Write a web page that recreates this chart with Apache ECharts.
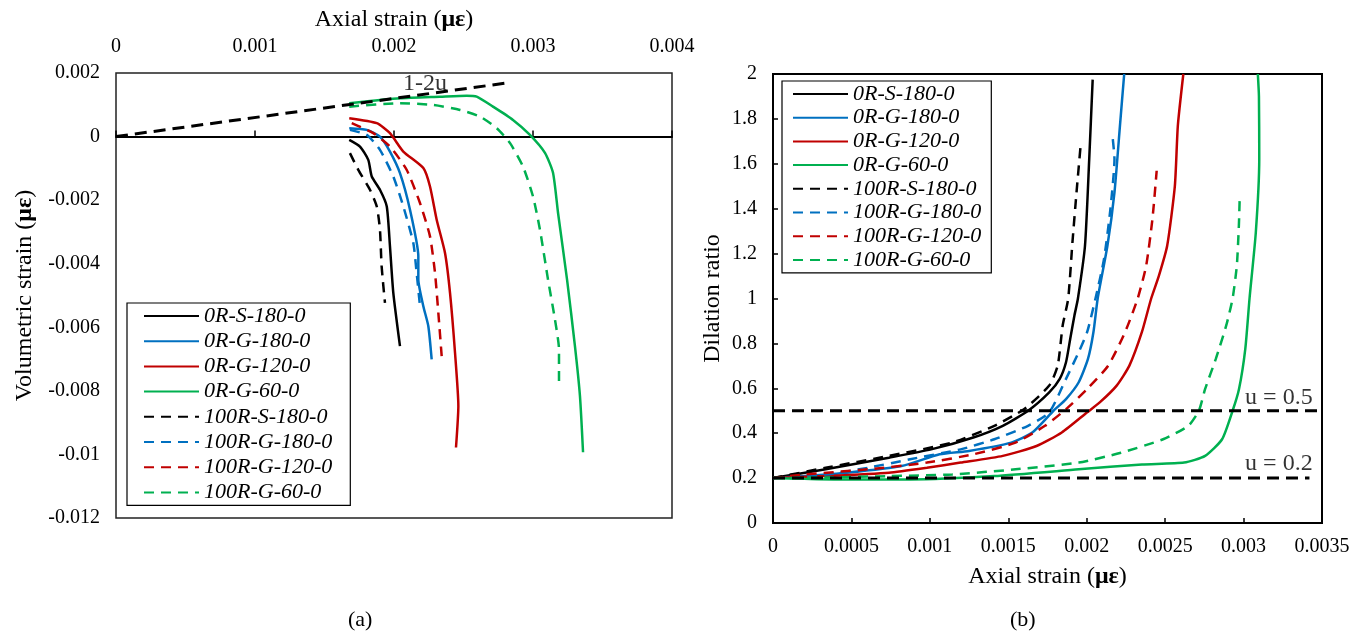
<!DOCTYPE html>
<html>
<head>
<meta charset="utf-8">
<script src="https://cdn.jsdelivr.net/npm/echarts@6/dist/echarts.min.js"></script>
<style>
  html, body { margin: 0; padding: 0; background: #fff; }
  #chart { width: 1362px; height: 635px; }
</style>
</head>
<body>
<div id="chart"></div>
<script>
// Specimen names (solid = 0R, dashed = 100R)
const specimenNames = ['0R-S-180-0', '0R-G-180-0', '0R-G-120-0', '0R-G-60-0',
  '100R-S-180-0', '100R-G-180-0', '100R-G-120-0', '100R-G-60-0'];
const specimenColors = ['#000000', '#0070C0', '#C00000', '#00B050',
  '#000000', '#0070C0', '#C00000', '#00B050'];
const specimenDashed = [false, false, false, false, true, true, true, true];

// Tick labels
const axialTicksA = ['0', '0.001', '0.002', '0.003', '0.004'];
const volTicksA = ['-0.012', '-0.01', '-0.008', '-0.006', '-0.004', '-0.002', '0', '0.002'];
const axialTicksB = ['0', '0.0005', '0.001', '0.0015', '0.002', '0.0025', '0.003', '0.0035'];
const ratioTicksB = ['0', '0.2', '0.4', '0.6', '0.8', '1', '1.2', '1.4', '1.6', '1.8', '2'];

// (a) volumetric strain vs axial strain
const volS180_0R = [[0.001678,-0.000104],[0.001755,-0.000314],[0.001815,-0.000732],[0.001840,-0.001256],[0.001899,-0.001674],[0.001948,-0.002198],[0.001971,-0.003454],[0.001995,-0.004917],[0.002043,-0.006593]];
const volG180_0R = [[0.001678,0.000264],[0.001804,0.000210],[0.001899,0.0],[0.001971,-0.000471],[0.002043,-0.001149],[0.002115,-0.002301],[0.002175,-0.003768],[0.002175,-0.004499],[0.002211,-0.005338],[0.002247,-0.005966],[0.002271,-0.007011]];
const volG120_0R = [[0.001678,0.000578],[0.001876,0.000421],[0.001971,0.000107],[0.002067,-0.000471],[0.002211,-0.000992],[0.002259,-0.001570],[0.002307,-0.002615],[0.002367,-0.003661],[0.002403,-0.004917],[0.002439,-0.006801],[0.002463,-0.008477],[0.002446,-0.009783]];
const volG60_0R = [[0.001678,0.001049],[0.002043,0.001206],[0.002331,0.001256],[0.002523,0.001287],[0.002595,0.001256],[0.002712,0.000942],[0.002856,0.000524],[0.002978,0.000053],[0.003086,-0.000512],[0.003144,-0.001140],[0.003180,-0.002396],[0.003245,-0.004500],[0.003302,-0.006603],[0.003338,-0.008173],[0.003360,-0.009931]];
const volS180_100R = [[0.001683,-0.000521],[0.001743,-0.001045],[0.001827,-0.001674],[0.001876,-0.002198],[0.001899,-0.002929],[0.001911,-0.004082],[0.001935,-0.005231]];
const volG180_100R = [[0.001683,0.000210],[0.001804,0.000053],[0.001899,-0.000418],[0.001995,-0.001256],[0.002067,-0.002198],[0.002139,-0.003347],[0.002163,-0.004289],[0.002187,-0.005338]];
const volG120_100R = [[0.001696,0.000421],[0.001851,0.000107],[0.001971,-0.000314],[0.002091,-0.001045],[0.002187,-0.002091],[0.002259,-0.003140],[0.002295,-0.004289],[0.002319,-0.005545],[0.002343,-0.006907]];
const volG60_100R = [[0.001678,0.000942],[0.002043,0.001049],[0.002281,0.000995],[0.002475,0.000838],[0.002619,0.000628],[0.002739,0.000264],[0.002835,-0.000207],[0.002928,-0.000942],[0.003000,-0.001884],[0.003050,-0.002929],[0.003108,-0.004499],[0.003158,-0.005755],[0.003187,-0.006697],[0.003187,-0.007692]];
// 1-2u reference line (slope 0.6 through the origin)
const refLine12u = [[0, 0], [0.00282, 0.001692]];

// (b) dilation ratio vs axial strain
const drS180_0R = [[0,0.2],[0.000336,0.239],[0.000739,0.291],[0.001008,0.328],[0.001277,0.381],[0.001465,0.433],[0.001626,0.5],[0.001761,0.582],[0.001828,0.642],[0.001868,0.716],[0.001895,0.821],[0.001922,0.925],[0.001944,1.0],[0.001989,1.235],[0.002016,1.621],[0.002038,1.975]];
const drG180_0R = [[0,0.2],[0.0002,0.209],[0.00047,0.224],[0.00082,0.254],[0.001062,0.306],[0.00125,0.321],[0.001519,0.358],[0.001653,0.403],[0.001788,0.5],[0.001868,0.552],[0.001949,0.627],[0.002008,0.731],[0.002043,0.851],[0.00207,1.0],[0.002132,1.235],[0.002177,1.473],[0.002212,1.77],[0.002239,2.0]];
const drG120_0R = [[0,0.2],[0.000336,0.209],[0.000739,0.224],[0.000981,0.246],[0.001196,0.269],[0.001465,0.299],[0.00168,0.343],[0.001841,0.403],[0.002003,0.493],[0.002083,0.537],[0.002191,0.612],[0.002272,0.701],[0.002352,0.851],[0.002411,1.0],[0.00246,1.101],[0.002513,1.235],[0.002562,1.502],[0.002581,1.77],[0.002616,2.0]];
const drG60_0R = [[0,0.2],[0.0002,0.197],[0.00047,0.194],[0.000874,0.194],[0.001411,0.209],[0.001949,0.239],[0.002352,0.261],[0.002621,0.269],[0.002755,0.299],[0.002863,0.373],[0.00293,0.5],[0.002971,0.597],[0.003011,0.776],[0.003038,1.0],[0.003078,1.294],[0.0031,1.621],[0.003098,1.9],[0.003091,2.0]];
const drS180_100R = [[0,0.2],[0.000336,0.246],[0.000739,0.299],[0.001142,0.358],[0.001411,0.433],[0.0016,0.507],[0.001761,0.612],[0.001815,0.701],[0.001847,0.881],[0.001882,1.0],[0.001909,1.25],[0.001935,1.473],[0.001962,1.688]];
const drG180_100R = [[0,0.2],[0.000336,0.216],[0.000605,0.246],[0.000874,0.284],[0.001196,0.328],[0.001411,0.373],[0.001626,0.433],[0.001761,0.493],[0.001868,0.642],[0.001949,0.761],[0.002003,0.851],[0.002056,1.0],[0.00211,1.175],[0.002151,1.398],[0.002177,1.621],[0.002164,1.725]];
const drG120_100R = [[0,0.2],[0.0002,0.216],[0.000605,0.239],[0.000981,0.269],[0.001277,0.306],[0.001546,0.358],[0.001734,0.433],[0.001868,0.507],[0.002003,0.597],[0.002137,0.701],[0.002245,0.851],[0.002325,1.0],[0.002379,1.146],[0.002419,1.354],[0.002446,1.569]];
const drG60_100R = [[0,0.2],[0.000336,0.203],[0.000739,0.209],[0.001142,0.216],[0.001546,0.239],[0.001949,0.269],[0.002218,0.313],[0.002487,0.373],[0.002648,0.433],[0.002715,0.5],[0.002755,0.597],[0.002823,0.731],[0.00289,0.881],[0.00293,1.0],[0.002957,1.146],[0.00297,1.324],[0.002976,1.465]];
// Poisson's ratio reference levels
const refU05 = [[0, 0.5], [0.0035, 0.5]];
const refU02 = [[0, 0.2], [0.00342, 0.2]];

const volData = [volS180_0R, volG180_0R, volG120_0R, volG60_0R, volS180_100R, volG180_100R, volG120_100R, volG60_100R];
const drData = [drS180_0R, drG180_0R, drG120_0R, drG60_0R, drS180_100R, drG180_100R, drG120_100R, drG60_100R];

const FONT = "'Liberation Serif', 'Times New Roman', serif";
const chart = echarts.init(document.getElementById('chart'));

function curve(name, i, data, xi, yi) {
  return {
    type: 'line', name: name, data: data, xAxisIndex: xi, yAxisIndex: yi,
    showSymbol: false, symbol: 'none', smooth: 0.2, silent: true,
    color: specimenColors[i],
    lineStyle: { color: specimenColors[i], width: 2.5, type: specimenDashed[i] ? [10, 7] : 'solid' },
    z: 3
  };
}
function refLine(data, xi, yi) {
  return {
    type: 'line', data: data, xAxisIndex: xi, yAxisIndex: yi, showSymbol: false, symbol: 'none',
    silent: true, color: '#000', lineStyle: { color: '#000', width: 3, type: [12, 7] }, z: 4
  };
}
function note(text, x, y, xi, yi) {
  return {
    type: 'scatter', data: [[x, y]], xAxisIndex: xi, yAxisIndex: yi, symbolSize: 1, silent: true,
    itemStyle: { color: 'rgba(0,0,0,0)' },
    label: { show: true, position: 'inside', formatter: text, color: '#000', fontFamily: FONT, fontSize: 24 },
    z: 5
  };
}

const series = [];
specimenNames.forEach((n, i) => series.push(curve(n, i, volData[i], 0, 0)));
specimenNames.forEach((n, i) => series.push(curve(n, i, drData[i], 2, 1)));
series.push(refLine(refLine12u, 0, 0));
series.push(refLine(refU05, 2, 1));
series.push(refLine(refU02, 2, 1));
series.push(note('1-2u', 0.002223, 0.00166, 0, 0));
series.push(note('u = 0.5', 0.003225, 0.56, 2, 1));
series.push(note('u = 0.2', 0.003225, 0.265, 2, 1));

const tickFmt = (labels, min, step) => (v) => labels[Math.round((v - min) / step)] ?? '';
const labelStyle = { color: '#000', fontFamily: FONT, fontSize: 20 };
const nameStyle = { color: '#000', fontFamily: FONT, fontSize: 24, rich: { m: { fontFamily: FONT, fontSize: 24, fontWeight: 'bold', color: '#000' } } };
const legendCommon = {
  orient: 'vertical', data: specimenNames, itemWidth: 55, itemHeight: 12,
  selectedMode: false, backgroundColor: '#fff', borderColor: '#000', borderWidth: 1.2,
  itemStyle: { opacity: 0, borderWidth: 0 },
  textStyle: { color: '#000', fontFamily: FONT, fontSize: 22, fontStyle: 'italic', lineHeight: 22 }
};

chart.setOption({
  animation: false,
  backgroundColor: '#fff',
  grid: [
    { left: 116, top: 73, width: 556, height: 445, show: true, borderColor: '#222', borderWidth: 1.5 },
    { left: 773, top: 74, width: 549, height: 449, show: true, borderColor: '#000', borderWidth: 2 }
  ],
  xAxis: [
    { type: 'value', gridIndex: 0, position: 'top', min: 0, max: 0.004, interval: 0.001,
      axisLine: { show: false, onZero: false }, axisTick: { show: false }, splitLine: { show: false },
      axisLabel: Object.assign({ margin: 16, formatter: tickFmt(axialTicksA, 0, 0.001) }, labelStyle),
      name: 'Axial strain ({m|με})', nameLocation: 'middle', nameGap: 40, nameTextStyle: nameStyle },
    { type: 'value', gridIndex: 0, position: 'bottom', min: 0, max: 0.004, interval: 0.001,
      axisLine: { show: true, onZero: true, onZeroAxisIndex: 0, lineStyle: { color: '#000', width: 2 } },
      axisTick: { show: true, inside: true, length: 6, lineStyle: { color: '#000', width: 1.5 } },
      axisLabel: { show: false }, splitLine: { show: false } },
    { type: 'value', gridIndex: 1, position: 'bottom', min: 0, max: 0.0035, interval: 0.0005,
      axisLine: { show: true, onZero: false, lineStyle: { color: '#000', width: 2 } },
      axisTick: { show: true, inside: true, length: 5, lineStyle: { color: '#000', width: 1.5 } },
      splitLine: { show: false },
      axisLabel: Object.assign({ margin: 14, formatter: tickFmt(axialTicksB, 0, 0.0005) }, labelStyle),
      name: 'Axial strain ({m|με})', nameLocation: 'middle', nameGap: 42, nameTextStyle: nameStyle }
  ],
  yAxis: [
    { type: 'value', gridIndex: 0, min: -0.012, max: 0.002, interval: 0.002,
      axisLine: { show: false }, axisTick: { show: false }, splitLine: { show: false },
      axisLabel: Object.assign({ margin: 16, formatter: tickFmt(volTicksA, -0.012, 0.002) }, labelStyle),
      name: 'Volumetric strain ({m|με})', nameLocation: 'middle', nameGap: 79, nameRotate: 90, nameTextStyle: nameStyle },
    { type: 'value', gridIndex: 1, min: 0, max: 2, interval: 0.2,
      axisLine: { show: true, onZero: false, lineStyle: { color: '#000', width: 2 } },
      axisTick: { show: true, inside: true, length: 5, lineStyle: { color: '#000', width: 1.5 } },
      splitLine: { show: false },
      axisLabel: Object.assign({ margin: 16, formatter: tickFmt(ratioTicksB, 0, 0.2) }, labelStyle),
      name: 'Dilation ratio', nameLocation: 'middle', nameGap: 48, nameRotate: 90, nameTextStyle: nameStyle }
  ],
  legend: [
    Object.assign({ left: 127, top: 303, itemGap: 3.2, padding: [2, 18, 2, 16] }, legendCommon),
    Object.assign({ left: 782, top: 81, itemGap: 1.7, padding: [2, 10, 2, 10] }, legendCommon)
  ],
  graphic: [
    { type: 'text', left: 348, top: 609, style: { text: '(a)', font: '22px ' + FONT, fill: '#000' } },
    { type: 'text', left: 1010, top: 609, style: { text: '(b)', font: '22px ' + FONT, fill: '#000' } }
  ],
  series: series
});
</script>
</body>
</html>
